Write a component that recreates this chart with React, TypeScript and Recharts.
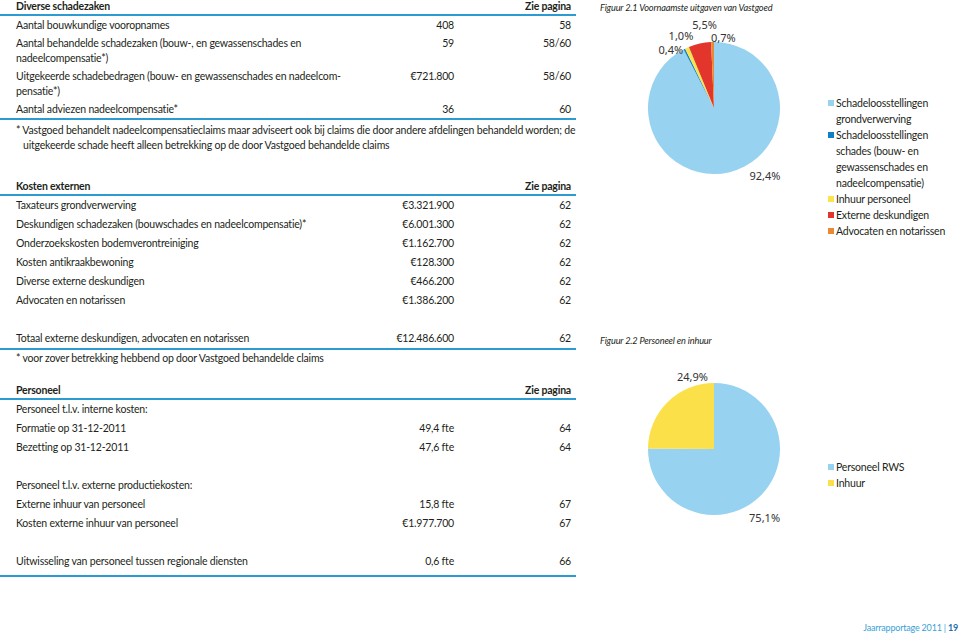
import React from "react";
import { PieChart, Pie, Cell, Legend } from "recharts";

// ---------- DATA ----------
const schadeTitle = "Diverse schadezaken";
const schadeLabels = [
  "Aantal bouwkundige vooropnames",
  "Aantal behandelde schadezaken (bouw-, en gewassenschades en\nnadeelcompensatie*)",
  "Uitgekeerde schadebedragen (bouw- en gewassenschades en nadeelcom-\npensatie*)",
  "Aantal adviezen nadeelcompensatie*",
];
const schadeValues = ["408", "59", "€721.800", "36"];
const schadePages = ["58", "58/60", "58/60", "60"];
const schadeNote =
  "* Vastgoed behandelt nadeelcompensatieclaims maar adviseert ook bij claims die door andere afdelingen behandeld worden; de\nuitgekeerde schade heeft alleen betrekking op de door Vastgoed behandelde claims";

const kostenTitle = "Kosten externen";
const kostenLabels = [
  "Taxateurs grondverwerving",
  "Deskundigen schadezaken (bouwschades en nadeelcompensatie)*",
  "Onderzoekskosten bodemverontreiniging",
  "Kosten antikraakbewoning",
  "Diverse externe deskundigen",
  "Advocaten en notarissen",
  "",
  "Totaal externe deskundigen, advocaten en notarissen",
];
const kostenValues = ["€3.321.900", "€6.001.300", "€1.162.700", "€128.300", "€466.200", "€1.386.200", "", "€12.486.600"];
const kostenPages = ["62", "62", "62", "62", "62", "62", "", "62"];
const kostenNote = "* voor zover betrekking hebbend op door Vastgoed behandelde claims";

const personeelTitle = "Personeel";
const personeelLabels = [
  "Personeel t.l.v. interne kosten:",
  "Formatie op 31-12-2011",
  "Bezetting op 31-12-2011",
  "",
  "Personeel t.l.v. externe productiekosten:",
  "Externe inhuur van personeel",
  "Kosten externe inhuur van personeel",
  "",
  "Uitwisseling van personeel tussen regionale diensten",
];
const personeelValues = ["", "49,4 fte", "47,6 fte", "", "", "15,8 fte", "€1.977.700", "", "0,6 fte"];
const personeelPages = ["", "64", "64", "", "", "67", "67", "", "66"];

const pageHeader = "Zie pagina";

const fig1Title = "Figuur 2.1 Voornaamste uitgaven van Vastgoed";
const fig1Names = [
  "Schadeloosstellingen grondverwerving",
  "Schadeloosstellingen schades (bouw- en gewassenschades en nadeelcompensatie)",
  "Inhuur personeel",
  "Externe deskundigen",
  "Advocaten en notarissen",
];
const fig1Values = [92.4, 0.4, 1.0, 5.5, 0.7];
const fig1Colors = ["#97D2F1", "#0E80C4", "#FBE34B", "#E2352B", "#E88A34"];

const fig2Title = "Figuur 2.2 Personeel en inhuur";
const fig2Names = ["Personeel RWS", "Inhuur"];
const fig2Values = [75.1, 24.9];
const fig2Colors = ["#97D2F1", "#FCE04A"];

const footerText = "Jaarrapportage 2011 | ";
const footerPage = "19";

// ---------- STYLE ----------
const FONT = "Lato, 'Noto Sans', sans-serif";
const FS = 10.5;
const LS = -0.2;
const TEXT = "#231f20";
const RULE = "#2C9AD3";
const RAD = Math.PI / 180;
const NO_MARGIN = { top: 0, right: 0, bottom: 0, left: 0 };

const fig1Data = fig1Names.map((name, i) => ({ name, value: fig1Values[i] }));
const fig2Data = fig2Names.map((name, i) => ({ name, value: fig2Values[i] }));

const fig1Nudge = [
  [33, -6],
  [-9, 9],
  [-2, -3],
  [7, -9],
  [11, 5],
];
const fig2Nudge = [
  [-3, 15],
  [32, -19],
];

const fmtPct = (v: number) => `${v.toFixed(1).replace(".", ",")}%`;

const makeLabel = (nudge: number[][]) => (props: any) => {
  const { cx, cy, midAngle, outerRadius, index, value } = props;
  const r = outerRadius + 10;
  const x = cx + r * Math.cos(-midAngle * RAD) + nudge[index][0];
  const y = cy + r * Math.sin(-midAngle * RAD) + nudge[index][1];
  return (
    <text
      x={x}
      y={y}
      textAnchor="middle"
      dominantBaseline="central"
      fill="#333"
      fontSize={11}
      fontFamily="'Noto Sans', sans-serif"
    >
      {fmtPct(value)}
    </text>
  );
};

const makeLegend = (order: string[]) => (props: any) => {
  const items = [...(props.payload || [])].sort(
    (a: any, b: any) => order.indexOf(a.value) - order.indexOf(b.value)
  );
  return (
    <div style={{ fontFamily: FONT, fontSize: FS, letterSpacing: LS, color: TEXT, lineHeight: "16px" }}>
      {items.map((p: any, i: number) => (
        <div key={i} style={{ position: "relative", paddingLeft: 8 }}>
          <span
            style={{
              position: "absolute",
              left: 0,
              top: 5,
              width: 6,
              height: 6,
              background: p.color,
            }}
          />
          {p.value}
        </div>
      ))}
    </div>
  );
};

type TableProps = {
  top: number;
  title: string;
  labels: string[];
  values: string[];
  pages: string[];
  ruleAfter?: number[];
  note?: string;
  notePad?: number;
  lineH: number;
  pad: number;
  lastPadBottom?: number;
};

const Table = ({ top, title, labels, values, pages, ruleAfter = [], note, notePad = 3, lineH, pad, lastPadBottom }: TableProps) => (
  <div
    style={{
      position: "absolute",
      left: 0,
      top,
      width: 576,
      fontFamily: FONT,
      fontSize: FS,
      letterSpacing: LS,
      color: TEXT,
    }}
  >
    <div
      style={{
        display: "flex",
        fontWeight: 700,
        lineHeight: "15px",
        height: 15,
        borderBottom: `2px solid ${RULE}`,
      }}
    >
      <div style={{ paddingLeft: 16, flex: 1 }}>{title}</div>
      <div style={{ width: 117, textAlign: "right", paddingRight: 5 }}>{pageHeader}</div>
    </div>
    {labels.map((lab, i) => (
      <div
        key={i}
        style={{
          display: "flex",
          lineHeight: `${lineH}px`,
          minHeight: lineH,
          padding: `${pad}px 5px ${i === labels.length - 1 && lastPadBottom !== undefined ? lastPadBottom : pad}px 16px`,
          borderBottom: ruleAfter.includes(i) ? `2px solid ${RULE}` : "none",
        }}
      >
        <div style={{ width: 360, whiteSpace: "pre" }}>{lab}</div>
        <div style={{ width: 78, textAlign: "right", whiteSpace: "nowrap" }}>{values[i]}</div>
        <div style={{ width: 117, textAlign: "right" }}>{pages[i]}</div>
      </div>
    ))}
    {note ? (
      <div
        style={{
          whiteSpace: "pre",
          lineHeight: "15px",
          paddingTop: notePad,
          paddingLeft: 23,
          textIndent: -7,
        }}
      >
        {note}
      </div>
    ) : null}
  </div>
);

const captionStyle: React.CSSProperties = {
  position: "absolute",
  left: 600,
  fontFamily: FONT,
  fontStyle: "italic",
  fontSize: 9.2,
  letterSpacing: -0.15,
  color: TEXT,
  whiteSpace: "nowrap",
};

export default function App() {
  return (
    <div
      style={{
        position: "absolute",
        left: 0,
        top: 0,
        width: 960,
        height: 635,
        background: "#fff",
        overflow: "hidden",
      }}
    >
      <Table
        top={-1}
        title={schadeTitle}
        labels={schadeLabels}
        values={schadeValues}
        pages={schadePages}
        ruleAfter={[3]}
        note={schadeNote}
        lineH={15}
        pad={1.5}
      />
      <Table
        top={179}
        title={kostenTitle}
        labels={kostenLabels}
        values={kostenValues}
        pages={kostenPages}
        ruleAfter={[7]}
        note={kostenNote}
        notePad={1}
        lineH={15}
        pad={2}
      />
      <Table
        top={383}
        title={personeelTitle}
        labels={personeelLabels}
        values={personeelValues}
        pages={personeelPages}
        ruleAfter={[8]}
        lineH={15}
        pad={2}
        lastPadBottom={6}
      />

      <div style={{ ...captionStyle, top: 2 }}>{fig1Title}</div>
      <div style={{ position: "absolute", left: 600, top: 0 }}>
        <PieChart width={360} height={260} margin={NO_MARGIN}>
          <Pie
            data={fig1Data}
            dataKey="value"
            nameKey="name"
            cx={114}
            cy={108}
            outerRadius={66}
            startAngle={90}
            endAngle={-270}
            stroke="none"
            isAnimationActive={false}
            labelLine={false}
            label={makeLabel(fig1Nudge)}
          >
            {fig1Data.map((d, i) => (
              <Cell key={d.name} fill={fig1Colors[i]} />
            ))}
          </Pie>
          <Legend
            layout="vertical"
            content={makeLegend(fig1Names)}
            wrapperStyle={{ position: "absolute", left: 228, top: 95, width: 126 }}
          />
        </PieChart>
      </div>

      <div style={{ ...captionStyle, top: 335 }}>{fig2Title}</div>
      <div style={{ position: "absolute", left: 600, top: 340 }}>
        <PieChart width={360} height={240} margin={NO_MARGIN}>
          <Pie
            data={fig2Data}
            dataKey="value"
            nameKey="name"
            cx={114}
            cy={109}
            outerRadius={66}
            startAngle={90}
            endAngle={-270}
            stroke="none"
            isAnimationActive={false}
            labelLine={false}
            label={makeLabel(fig2Nudge)}
          >
            {fig2Data.map((d, i) => (
              <Cell key={d.name} fill={fig2Colors[i]} />
            ))}
          </Pie>
          <Legend
            layout="vertical"
            content={makeLegend(fig2Names)}
            wrapperStyle={{ position: "absolute", left: 228, top: 119, width: 126 }}
          />
        </PieChart>
      </div>

      <div
        style={{
          position: "absolute",
          right: 2,
          top: 622,
          fontFamily: FONT,
          fontSize: 9,
          letterSpacing: -0.2,
          color: "#3A9FD8",
          whiteSpace: "pre",
        }}
      >
        {footerText}
        <span style={{ fontWeight: 700, color: "#1F6FAE" }}>{footerPage}</span>
      </div>
    </div>
  );
}
